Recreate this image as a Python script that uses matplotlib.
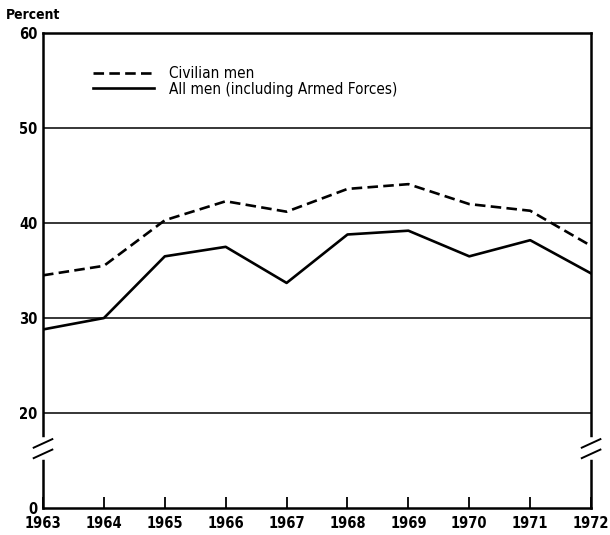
import numpy as np
import matplotlib
matplotlib.use("Agg")
import matplotlib.pyplot as plt

plt.rcParams['font.family'] = ['DejaVu Sans']
plt.rcParams['font.stretch'] = 'condensed'

years = [1963, 1964, 1965, 1966, 1967, 1968, 1969, 1970, 1971, 1972]
civilian = [34.5, 35.5, 40.3, 42.3, 41.2, 43.6, 44.1, 42.0, 41.3, 37.6]
all_men = [28.8, 30.0, 36.5, 37.5, 33.7, 38.8, 39.2, 36.5, 38.2, 34.7]
yticks = [0, 20, 30, 40, 50, 60]


# 0-20 squeezed into the height of one 10-point step (broken axis)
def fwd(y):
    y = np.asarray(y, dtype=float)
    return np.where(y >= 20, y, 10 + y / 2)


def inv(t):
    t = np.asarray(t, dtype=float)
    return np.where(t >= 20, t, (t - 10) * 2)


fig = plt.figure(figsize=(6.1, 5.35), dpi=100)
ax = fig.add_axes([0.0705, 0.0505, 0.8985, 0.8875])
ax.set_yscale('function', functions=(fwd, inv))

for g in [20, 30, 40, 50]:
    ax.axhline(g, color='black', lw=1.1, zorder=1)

ax.plot(years, civilian, color='black', lw=1.9, dashes=(4, 2), label='Civilian men', zorder=3)
ax.plot(years, all_men, color='black', lw=1.9, label='All men (including Armed Forces)', zorder=3)

ax.set_xlim(1963, 1972)
ax.set_ylim(0, 60)
ax.set_xticks(years)
ax.set_xticklabels([str(y) for y in years], fontsize=10.5, fontweight='bold')
ax.set_yticks(yticks)
ax.set_yticklabels([str(t) for t in yticks], fontsize=10.5, fontweight='bold')
ax.tick_params(axis='x', direction='in', length=8, width=1.3, pad=6)
ax.tick_params(axis='y', length=0, pad=4)
for s in ax.spines.values():
    s.set_linewidth(1.8)

# break marks on both side spines
yb = (fwd(12.5) - fwd(0)) / (fwd(60) - fwd(0))
for xa in [0, 1]:
    ax.plot([xa, xa], [yb - 0.018, yb + 0.018], transform=ax.transAxes,
            color='white', lw=4, clip_on=False, zorder=5)
    for dy in [-0.011, 0.011]:
        ax.plot([xa - 0.017, xa + 0.017], [yb + dy - 0.009, yb + dy + 0.009],
                transform=ax.transAxes, color='black', lw=1.4, clip_on=False, zorder=6)

leg = ax.legend(loc='upper left', bbox_to_anchor=(0.066, 0.96), frameon=False,
                handlelength=4.0, fontsize=11, labelspacing=0.05, handletextpad=1.0)

fig.text(0.01, 0.965, 'Percent', fontsize=10, fontweight='bold')

fig.savefig('out.png', dpi=100)
